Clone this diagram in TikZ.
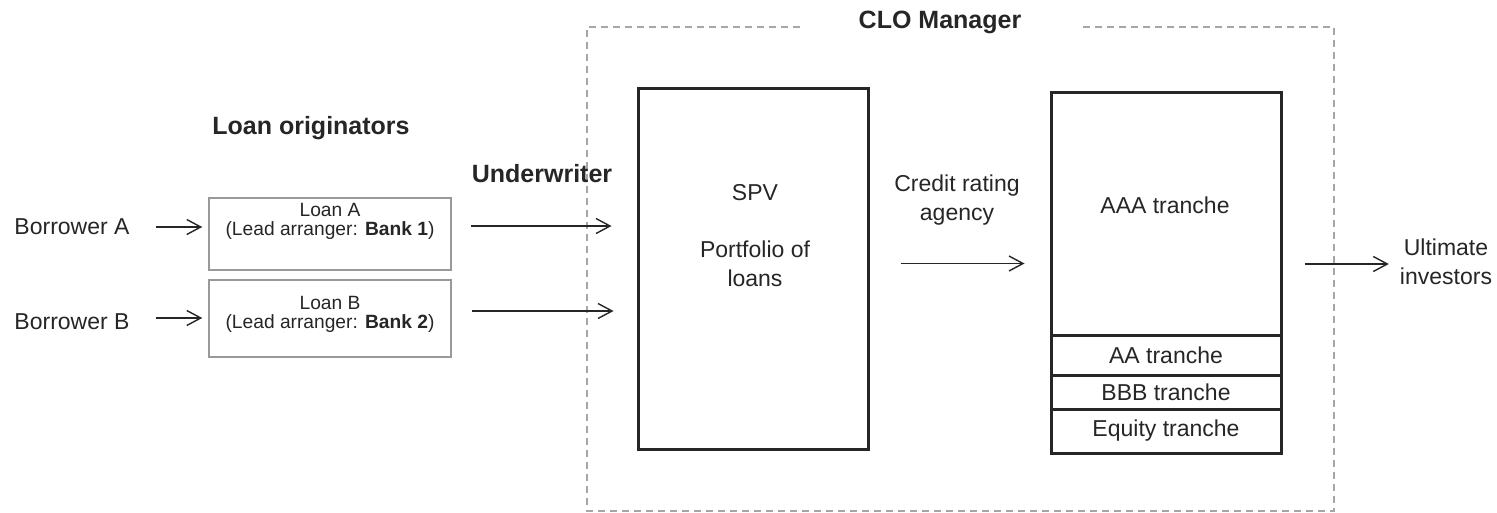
\documentclass[tikz,border=0pt]{standalone}
\usepackage{fontspec}
\setmainfont{Liberation Sans}
\usetikzlibrary{arrows.meta}
\colorlet{boxgray}{black!40}
\colorlet{dashgray}{black!35}
\colorlet{ink}{black!85}

\tikzset{
  plain/.style={font=\fontsize{23}{29}\selectfont, text=ink, align=center, inner sep=0pt},
  small/.style={font=\fontsize{19.2}{19}\selectfont, text=ink, align=center, inner sep=0pt},
  head/.style={font=\bfseries\fontsize{25}{27}\selectfont, text=ink, inner sep=0pt},
  loanbox/.style={draw=boxgray, line width=1.5pt, minimum width=242pt, inner sep=0pt},
  bigbox/.style={draw=ink, line width=3pt, minimum width=230pt, inner sep=0pt},
  tranche/.style={bigbox, plain},
  flow/.style={-{Straight Barb[length=14pt,width=15pt]}, line width=1.4pt, draw=ink},
  mgr/.style={draw=dashgray, line width=1.5pt, dash pattern=on 7pt off 5pt}
}

\begin{document}
\begin{tikzpicture}[x=1pt, y=-1pt]
\useasboundingbox (0,0) rectangle (1497,512);

\coordinate (mgrL) at (800,27);
\coordinate (mgrR) at (1080,27);
\draw[mgr] (mgrL) -- (587,27) -- (587,511) -- (1334,511) -- (1334,27) -- (mgrR);
\node[head] (clo) at (940,22) {CLO Manager};

\node[head] (orig) at (311,128) {Loan originators};
\node[head] (uw) at (542,174) {Underwriter};

\node[plain] (borA) at (72,227) {Borrower A};
\node[plain] (borB) at (72,322) {Borrower B};

\node[loanbox, minimum height=72pt] (loanA) at (330,234) {};
\node[small] (loanAtxt) at (330,221.5) {Loan A\\(Lead arranger: \textbf{Bank 1})};
\node[loanbox, minimum height=77pt] (loanB) at (330,318.5) {};
\node[small] (loanBtxt) at (330,314) {Loan B\\(Lead arranger: \textbf{Bank 2})};

\node[bigbox, minimum height=361pt] (spv) at (753,268.5) {};
\node[plain] (spvtxt) at (755,193) {SPV};
\node[plain] (pool) at (755,263.5) {Portfolio of\\loans};

\node[plain] (cra) at (957,200) {Credit rating\\agency};

\node[bigbox, minimum height=243pt] (aaa) at (1166,213.5) {};
\node[plain] (aaatxt) at (1165,205) {AAA tranche};
\node[tranche, minimum height=40pt] (aa) at (1166,355) {AA tranche};
\node[tranche, minimum height=34pt] (bbb) at (1166,392) {BBB tranche};
\node[tranche, minimum height=44pt] (eq) at (1166,431) {Equity tranche};

\node[plain] (inv) at (1446,262) {Ultimate\\investors};

\draw[flow, shorten <=26pt, shorten >=6pt] (borA.east) -- (borA.east -| loanA.west);
\draw[flow, shorten <=26pt, shorten >=6pt] ([yshift=4pt]borB.east) -- ([yshift=4pt]borB.east -| loanB.west);
\draw[flow, shorten <=19pt, shorten >=25pt] ([yshift=8pt]loanA.east) -- ([yshift=8pt]loanA.east -| spv.west);
\draw[flow, shorten <=20pt, shorten >=23pt] ([yshift=7.5pt]loanB.east) -- ([yshift=7.5pt]loanB.east -| spv.west);
\draw[flow, shorten <=31pt, shorten >=25pt] ([yshift=5pt]spv.east) -- ([yshift=5pt]spv.east -| aaa.west);
\draw[flow, shorten <=22pt, shorten >=11pt] ([yshift=-50.5pt]aaa.east) -- ([yshift=-50.5pt]aaa.east -| inv.west);
\end{tikzpicture}
\end{document}
